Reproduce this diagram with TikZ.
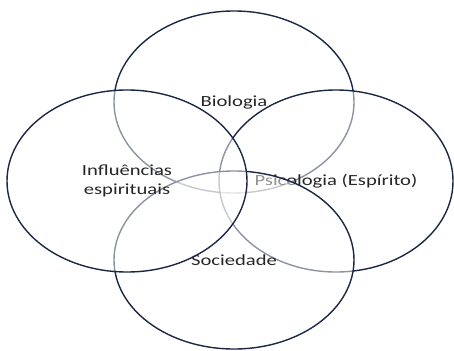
\documentclass[tikz,border=0pt]{standalone}
\usepackage{fontspec}
\setmainfont[FakeStretch=1.33]{Carlito}
\usetikzlibrary{shapes.geometric}
\definecolor{rim}{HTML}{1B2744}
\definecolor{ink}{HTML}{262626}

\tikzset{
    circ/.style={ellipse, draw=rim, line width=1.4pt, fill=white,
        fill opacity=0.5, text opacity=1, inner sep=0pt,
        minimum width=240pt, minimum height=182pt, text=ink,
        align=center, font=\fontsize{15.5}{19}\selectfont}
}

\begin{document}
\begin{tikzpicture}[x=1pt, y=-1pt]
        \useasboundingbox (0,0) rectangle (454,350);

        \node[circ] (bio) at (234,102) {Biologia};
        \node[circ, minimum width=234pt] (psi) at (336,181) {Psicologia (Espírito)};
        \node[circ, minimum height=178pt] (soc) at (234,260) {Sociedade};
        \node[circ] (inf) at (127,181) {Influências\\espirituais};

    \end{tikzpicture}
\end{document}
